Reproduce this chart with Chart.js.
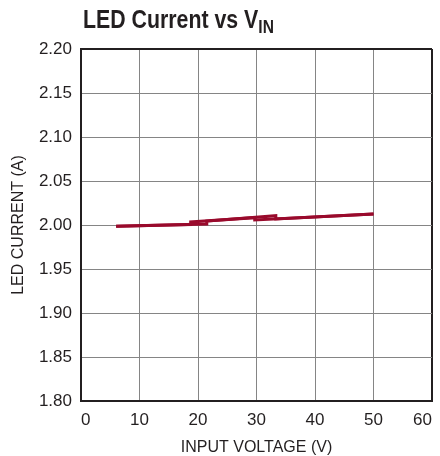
<!DOCTYPE html>
<html>
<head>
<meta charset="utf-8">
<script src="https://cdn.jsdelivr.net/npm/chart.js@4"></script>
<style>
  html, body { margin: 0; padding: 0; background: #ffffff; }
  #wrap { position: relative; width: 440px; height: 456px; }
  #title {
    position: absolute; left: 83px; top: 6px; margin: 0;
    font-family: 'Liberation Sans', Arial, sans-serif;
    font-weight: bold; font-size: 26px; line-height: 26px; color: #231f20;
    white-space: nowrap; transform: scaleX(0.82); transform-origin: 0 0;
  }
  #title sub { font-size: 19px; vertical-align: -5px; line-height: 0; }
  canvas { position: absolute; left: 0; top: 0; }
</style>
</head>
<body>
<div id="wrap">
  <canvas id="c" width="440" height="456"></canvas>
  <div id="title">LED Current vs V<sub>IN</sub></div>
</div>
<script>
// Rising input-voltage sweep
const risingVoltage = [6, 21.5, 21.5, 33.3, 33.3, 50];
const risingCurrent = [1.9985, 2.0012, 2.0045, 2.0106, 2.0068, 2.0125];
// Falling input-voltage sweep
const fallingVoltage = [50, 29.7, 29.7, 18.75, 18.75, 6];
const fallingCurrent = [2.0125, 2.0057, 2.0083, 2.0034, 2.0006, 1.9985];

const xTicks = [0, 10, 20, 30, 40, 50, 60];
const yTicks = [1.80, 1.85, 1.90, 1.95, 2.00, 2.05, 2.10, 2.15, 2.20];

const xTitle = 'INPUT VOLTAGE (V)';
const yTitle = 'LED CURRENT (A)';

const lineColor = '#990a2c';
const gridColor = '#858585';
const edgeColor = '#231f20';
const textColor = '#231f20';

const toPoints = (xs, ys) => xs.map((x, i) => ({ x: x, y: ys[i] }));

const tickFont = { family: "'Liberation Sans', Arial, sans-serif", size: 17 };
const titleFont = { family: "'Liberation Sans', Arial, sans-serif", size: 16 };

new Chart(document.getElementById('c'), {
  type: 'scatter',
  data: {
    datasets: [
      { label: 'Rising', data: toPoints(risingVoltage, risingCurrent), showLine: true,
        borderColor: lineColor, backgroundColor: lineColor, borderWidth: 3, pointRadius: 0, tension: 0 },
      { label: 'Falling', data: toPoints(fallingVoltage, fallingCurrent), showLine: true,
        borderColor: lineColor, backgroundColor: lineColor, borderWidth: 3, pointRadius: 0, tension: 0 }
    ]
  },
  options: {
    responsive: false,
    animation: false,
    devicePixelRatio: 1,
    layout: { padding: { top: 49, right: 8, left: 0, bottom: 0 } },
    plugins: { legend: { display: false }, tooltip: { enabled: false }, title: { display: false } },
    scales: {
      x: {
        type: 'linear', min: xTicks[0], max: xTicks[xTicks.length - 1],
        afterBuildTicks: (s) => { s.ticks = xTicks.map(v => ({ value: v })); },
        afterFit: (s) => { s.height = 55; s.paddingRight = 0; s.paddingLeft = 0; },
        ticks: { font: tickFont, color: textColor, padding: 9, maxRotation: 0, autoSkip: false,
                 align: 'inner', callback: (v) => String(v) },
        grid: { drawTicks: false,
                color: (ctx) => ctx.tick && ctx.tick.value === xTicks[xTicks.length - 1] ? edgeColor : gridColor,
                lineWidth: (ctx) => ctx.tick && ctx.tick.value === xTicks[xTicks.length - 1] ? 2 : 1 },
        border: { display: true, color: edgeColor, width: 2 },
        title: { display: true, text: xTitle, font: titleFont, color: textColor, padding: { top: 0, bottom: -1 } }
      },
      y: {
        type: 'linear', min: yTicks[0], max: yTicks[yTicks.length - 1],
        afterBuildTicks: (s) => { s.ticks = yTicks.map(v => ({ value: v })); },
        afterFit: (s) => { s.width = 81; },
        ticks: { font: tickFont, color: textColor, padding: 9, autoSkip: false,
                 callback: (v) => Number(v).toFixed(2) },
        grid: { drawTicks: false,
                color: (ctx) => ctx.tick && Math.abs(ctx.tick.value - yTicks[yTicks.length - 1]) < 1e-9 ? edgeColor : gridColor,
                lineWidth: (ctx) => ctx.tick && Math.abs(ctx.tick.value - yTicks[yTicks.length - 1]) < 1e-9 ? 2 : 1 },
        border: { display: true, color: edgeColor, width: 2 },
        title: { display: true, text: yTitle, font: titleFont, color: textColor, padding: { top: 9, bottom: 0 } }
      }
    }
  }
});
</script>
</body>
</html>
